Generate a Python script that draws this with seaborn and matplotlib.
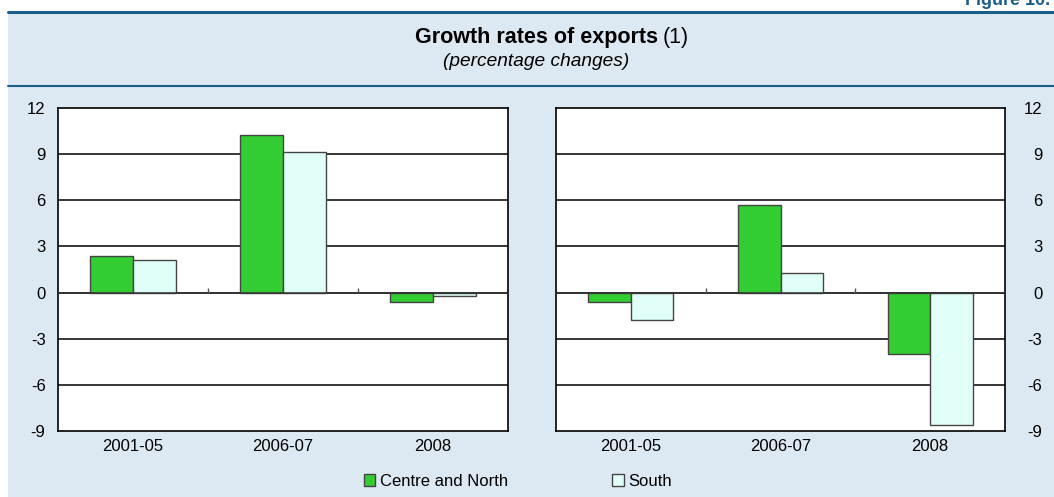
import seaborn as sns
import numpy as np
import pandas as pd
import matplotlib.pyplot as plt
from matplotlib.patches import Rectangle, Patch
from matplotlib.lines import Line2D

# Data
periods = ['2001-05', '2006-07', '2008']
regions = ['Centre and North', 'South']
left_centre_north = [2.35, 10.25, -0.6]
left_south = [2.1, 9.15, -0.2]
right_centre_north = [-0.6, 5.7, -4.0]
right_south = [-1.8, 1.3, -8.6]
y_ticks = [-9, -6, -3, 0, 3, 6, 9, 12]

colors = {'Centre and North': '#33CC33', 'South': '#E0FFF8'}
bg = '#DDE9F2'
blue = '#1B5E8A'


def make_frame(cn, south):
    return pd.DataFrame({
        'period': periods * 2,
        'region': [regions[0]] * 3 + [regions[1]] * 3,
        'value': cn + south,
    })


sns.set_style('white')
plt.rcParams['font.family'] = ['Liberation Sans', 'DejaVu Sans']
plt.rcParams['text.color'] = 'black'
plt.rcParams['xtick.color'] = 'black'
plt.rcParams['ytick.color'] = 'black'

fig = plt.figure(figsize=(10.54, 4.97), dpi=100)
fig.patch.set_facecolor('white')

# light blue panel with blue rules
fig.patches.append(Rectangle((8 / 1054, 0), 1, (497 - 12) / 497, transform=fig.transFigure,
                             facecolor=bg, edgecolor='none', zorder=-5))
fig.lines.append(Line2D([8 / 1054, 1], [1 - 12 / 497] * 2, transform=fig.transFigure,
                        color=blue, lw=2.2))
fig.lines.append(Line2D([8 / 1054, 1], [1 - 86 / 497] * 2, transform=fig.transFigure,
                        color=blue, lw=1.5))
# page label, clipped by the top edge as in the original
fig.text(1050 / 1054, 1 - 9 / 497, 'Figure 10.', ha='right', va='bottom',
         color=blue, fontsize=13, fontweight='bold')

# title
fig.text(658 / 1054, 1 - 38 / 497, 'Growth rates of exports', ha='right', va='center',
         fontsize=15.5, fontweight='bold')
fig.text(663 / 1054, 1 - 38 / 497, '(1)', ha='left', va='center', fontsize=15.5)
fig.text(536 / 1054, 1 - 62 / 497, '(percentage changes)', ha='center', va='center',
         fontsize=13.8, style='italic')

ax_l = fig.add_axes([58 / 1054, 66 / 497, 450 / 1054, 323 / 497])
ax_r = fig.add_axes([556 / 1054, 66 / 497, 449 / 1054, 323 / 497])

for ax, cn, south in [(ax_l, left_centre_north, left_south),
                      (ax_r, right_centre_north, right_south)]:
    ax.set_facecolor('white')
    sns.barplot(data=make_frame(cn, south), x='period', y='value', hue='region',
                palette=colors, saturation=1, width=0.567, edgecolor='#444444',
                linewidth=1, legend=False, ax=ax, zorder=3)
    ax.set_ylim(-9, 12)
    ax.set_xlim(-0.5, 2.5)
    ax.set_yticks(y_ticks)
    ax.set_yticklabels([str(t) for t in y_ticks], fontsize=12)
    ax.set_xlabel('')
    ax.set_ylabel('')
    for t in y_ticks[1:-1]:
        ax.axhline(t, color='black', lw=1.1, zorder=1)
    ax.axhline(0, color='#333333', lw=1.1, zorder=4)
    # small separators between categories on the zero line
    ax.vlines([0.5, 1.5], 0, 0.3, colors='#555555', lw=1, zorder=4)
    ax.tick_params(axis='x', length=0, labelsize=12, pad=6)
    ax.tick_params(axis='y', length=0, pad=9)
    for s in ax.spines.values():
        s.set_color('black')
        s.set_linewidth(1.2)

ax_r.yaxis.tick_right()
for lab in ax_r.get_yticklabels():
    lab.set_horizontalalignment('right')
ax_r.tick_params(axis='y', length=0, pad=27)

handles = [Patch(facecolor=colors[r], edgecolor='#444444', label=r) for r in regions]
fig.legend(handles=handles, loc='center', bbox_to_anchor=(518 / 1054, 1 - 481 / 497),
           ncol=2, frameon=False, fontsize=12, handlelength=0.7, handleheight=0.7,
           handletextpad=0.3, columnspacing=6.2)

fig.savefig('out.png', dpi=100, facecolor=fig.get_facecolor())
